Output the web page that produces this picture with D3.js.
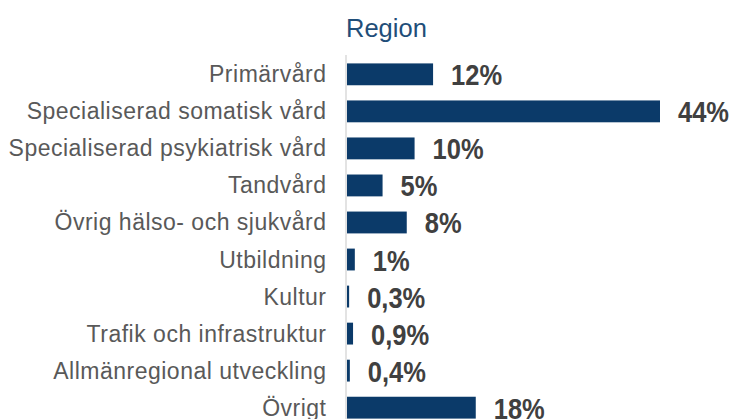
<!DOCTYPE html>
<html>
<head>
<meta charset="utf-8">
<script src="https://cdn.jsdelivr.net/npm/d3@7"></script>
<style>
  body { margin: 0; background: #fff; }
  text { font-family: "Liberation Sans", Arial, sans-serif; }
</style>
</head>
<body>
<div id="chart"></div>
<script>
var categories = [
    "Primärvård",
    "Specialiserad somatisk vård",
    "Specialiserad psykiatrisk vård",
    "Tandvård",
    "Övrig hälso- och sjukvård",
    "Utbildning",
    "Kultur",
    "Trafik och infrastruktur",
    "Allmänregional utveckling",
    "Övrigt"
];
// share of costs, percent
var values = [12.1, 44.0, 9.5, 5.0, 8.4, 1.1, 0.3, 0.85, 0.4, 18.1];
var valueLabels = ["12%", "44%", "10%", "5%", "8%", "1%", "0,3%", "0,9%", "0,4%", "18%"];
var title = "Region";

var width = 732
var height = 419
var margin = { top: 56, left: 347 };

var svg = d3.select("#chart")
    .append("svg")
    .attr("width", width)
    .attr("height", height);

var xScale = d3.scaleLinear()
    .domain([0, 44])
    .range([margin.left, margin.left + 313]);

var yScale = d3.scaleBand()
    .domain(categories)
    .range([margin.top, margin.top + 37 * categories.length])
    .paddingInner(0.41)
    .paddingOuter(0.2);

var data = categories.map(function(c, i) {
    return { cat: c, value: values[i], label: valueLabels[i] };
});

// title
svg.append("text")
    .attr("x", 346)
    .attr("y", 37)
    .attr("fill", "#1f4e79")
    .style("font-size", "25.5px")
    .text(title);

// bars
svg.selectAll(".bar")
    .data(data)
    .enter().append("rect")
    .attr("class", "bar")
    .attr("x", xScale(0))
    .attr("y", function(d) { return yScale(d.cat); })
    .attr("width", function(d) { return xScale(d.value) - xScale(0); })
    .attr("height", yScale.bandwidth())
    .attr("fill", "#0b3a69");

// vertical axis line
svg.append("line")
    .attr("x1", 346).attr("x2", 346)
    .attr("y1", 55).attr("y2", height)
    .attr("stroke", "#d0d0d0")
    .attr("stroke-width", 1.2);

// category labels
svg.selectAll(".cat")
    .data(data)
    .enter().append("text")
    .attr("class", "cat")
    .attr("x", 326.5)
    .attr("y", function(d) { return yScale(d.cat) + yScale.bandwidth() / 2 + 8; })
    .attr("text-anchor", "end")
    .attr("fill", "#595959")
    .style("font-size", "23px")
    .style("letter-spacing", "0.5px")
    .text(function(d) { return d.cat; });

// value labels (a bit taller than wide, like the original)
svg.selectAll(".val")
    .data(data)
    .enter().append("text")
    .attr("class", "val")
    .attr("transform", function(d) {
        return "translate(" + (xScale(d.value) + 18) + "," + (yScale(d.cat) + yScale.bandwidth() / 2 + 11) + ") scale(1,1.13)";
    })
    .attr("fill", "#404040")
    .style("font-size", "25.5px")
    .style("font-weight", "bold")
    .text(function(d) { return d.label; });
</script>
</body>
</html>
